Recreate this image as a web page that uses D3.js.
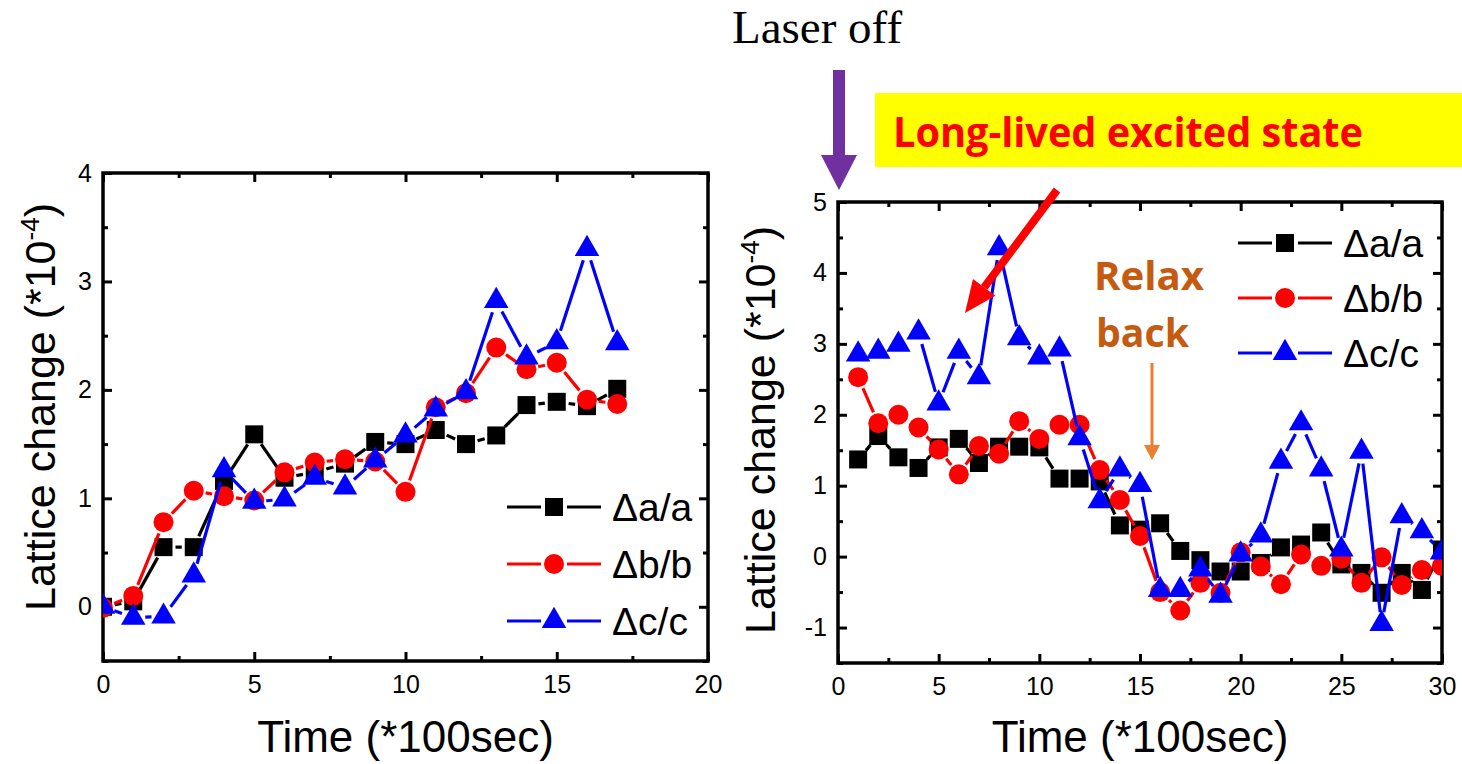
<!DOCTYPE html>
<html>
<head>
<meta charset="utf-8">
<script src="https://cdn.jsdelivr.net/npm/d3@7"></script>
<style>
  body { margin: 0; background: #fff; }
  svg { display: block; }
</style>
</head>
<body>
<div id="graph-container"></div>
<script>
const width = 1462;
const height = 764;

// left panel (laser on)
const leftTime = d3.range(0, 18);
const leftA = [0, 0.05, 0.55, 0.55, 1.16, 1.59, 1.19, 1.24, 1.32, 1.52, 1.50, 1.63, 1.50, 1.58, 1.86, 1.89, 1.85, 2.01];
const leftB = [-0.01, 0.10, 0.78, 1.07, 1.02, 0.98, 1.24, 1.33, 1.36, 1.34, 1.06, 1.84, 1.97, 2.39, 2.19, 2.25, 1.91, 1.87];
const leftC = [0, -0.10, -0.09, 0.29, 1.26, 0.97, 0.99, 1.19, 1.10, 1.35, 1.58, 1.82, 1.98, 2.82, 2.30, 2.44, 3.30, 2.43];

// right panel (laser off)
const rightTime = d3.range(1, 31);
const rightA = [1.37, 1.70, 1.40, 1.25, 1.54, 1.66, 1.32, 1.55, 1.55, 1.54, 1.10, 1.10, 1.06, 0.44, 0.38, 0.47, 0.08, -0.05, -0.21, -0.21, -0.09, 0.13, 0.17, 0.34, -0.11, -0.23, -0.51, -0.23, -0.47, 0.10];
const rightB = [2.53, 1.88, 2.00, 1.82, 1.51, 1.16, 1.56, 1.45, 1.91, 1.66, 1.86, 1.86, 1.22, 0.80, 0.29, -0.50, -0.76, -0.37, -0.51, 0.06, -0.14, -0.39, 0.03, -0.13, -0.03, -0.37, -0.01, -0.40, -0.19, -0.13];
const rightC = [2.85, 2.89, 2.99, 3.16, 2.16, 2.89, 2.53, 4.35, 3.08, 2.81, 2.92, 1.67, 0.78, 1.23, 1.01, -0.47, -0.47, -0.18, -0.55, 0.03, 0.30, 1.34, 1.88, 1.23, 0.10, 1.48, -0.95, 0.57, 0.36, 0.06];

const seriesNames = ["\u0394a/a", "\u0394b/b", "\u0394c/c"];
const seriesColors = ["#000000", "#ff0000", "#0000ff"];
const seriesSymbols = [d3.symbolSquare, d3.symbolCircle, d3.symbolTriangle];
const symbolSizes = [324, 314, 260];

const sans = "'Liberation Sans', Arial, sans-serif";

const svg = d3.select("#graph-container")
    .append("svg")
    .attr("width", width)
    .attr("height", height)
    .attr("viewBox", `0 0 ${width} ${height}`);

// segments with a gap next to each symbol, like Origin draws them
function gappedSegments(pts, gap) {
    const segs = [];
    for (let i = 0; i < pts.length - 1; i++) {
        const [x1, y1] = pts[i], [x2, y2] = pts[i + 1];
        const len = Math.hypot(x2 - x1, y2 - y1);
        if (len <= 2 * gap + 1) continue;
        const ux = (x2 - x1) / len, uy = (y2 - y1) / len;
        segs.push([x1 + ux * gap, y1 + uy * gap, x2 - ux * gap, y2 - uy * gap]);
    }
    return segs;
}

function drawPanel(p) {
    const x = d3.scaleLinear().domain(p.xDomain).range([p.left, p.right]);
    const y = d3.scaleLinear().domain(p.yDomain).range([p.bottom, p.top]);
    const w = p.right - p.left, h = p.bottom - p.top;

    const clipId = "clip-" + p.id;
    svg.append("clipPath").attr("id", clipId)
        .append("rect")
        .attr("x", p.left).attr("y", p.top)
        .attr("width", w).attr("height", h);

    const xMajor = d3.range(p.xDomain[0], p.xDomain[1] + 0.01, 5);
    const xMinor = d3.range(p.xDomain[0] + 2.5, p.xDomain[1], 5);
    const yMajor = d3.range(Math.ceil(p.yDomain[0]), p.yDomain[1] + 0.01, 1);
    const yMinor = d3.range(p.yDomain[0], p.yDomain[1], 0.5).filter(v => !Number.isInteger(v));

    const axes = [
        { make: () => d3.axisBottom(x), t: `translate(0,${p.bottom})`, labels: true },
        { make: () => d3.axisTop(x), t: `translate(0,${p.top})`, labels: false },
        { make: () => d3.axisLeft(y), t: `translate(${p.left},0)`, labels: true, isY: true },
        { make: () => d3.axisRight(y), t: `translate(${p.right},0)`, labels: false, isY: true }
    ];

    axes.forEach(a => {
        const major = a.make()
            .tickValues(a.isY ? yMajor : xMajor)
            .tickSize(-9)
            .tickPadding(a.isY ? 11 : 14)
            .tickFormat(a.labels ? d => String(d) : () => "");
        const gM = svg.append("g").attr("transform", a.t).call(major);
        const minor = a.make()
            .tickValues(a.isY ? yMinor : xMinor)
            .tickSize(-5)
            .tickFormat(() => "");
        const gm = svg.append("g").attr("transform", a.t).call(minor);
        [gM, gm].forEach(g => {
            g.select(".domain").remove();
            g.selectAll("line").attr("stroke", "#000").attr("stroke-width", 3);
            g.selectAll("text")
                .attr("font-family", sans)
                .attr("font-size", 25)
                .attr("fill", "#000");
        });
    });

    // frame
    svg.append("rect")
        .attr("x", p.left).attr("y", p.top)
        .attr("width", w).attr("height", h)
        .attr("fill", "none")
        .attr("stroke", "#000")
        .attr("stroke-width", 3.5);

    // data
    const plot = svg.append("g").attr("clip-path", `url(#${clipId})`);
    p.series.forEach((vals, i) => {
        const pts = p.time.map((t, j) => [x(t), y(vals[j])]);
        plot.selectAll(null)
            .data(gappedSegments(pts, 12))
            .enter().append("line")
            .attr("x1", d => d[0]).attr("y1", d => d[1])
            .attr("x2", d => d[2]).attr("y2", d => d[3])
            .attr("stroke", seriesColors[i])
            .attr("stroke-width", 3.2);
        plot.selectAll(null)
            .data(pts)
            .enter().append("path")
            .attr("d", d3.symbol(seriesSymbols[i], symbolSizes[i]))
            .attr("transform", d => `translate(${d[0]},${d[1]})`)
            .attr("fill", seriesColors[i]);
    });

    // legend
    const lg = p.legend;
    seriesNames.forEach((name, i) => {
        const cy = lg.y + i * lg.dy;
        const g = svg.append("g");
        g.append("line")
            .attr("x1", lg.x).attr("x2", lg.x + 34)
            .attr("y1", cy).attr("y2", cy)
            .attr("stroke", seriesColors[i]).attr("stroke-width", 3.2);
        g.append("line")
            .attr("x1", lg.x + 60).attr("x2", lg.x + 94)
            .attr("y1", cy).attr("y2", cy)
            .attr("stroke", seriesColors[i]).attr("stroke-width", 3.2);
        g.append("path")
            .attr("d", d3.symbol(seriesSymbols[i], symbolSizes[i]))
            .attr("transform", `translate(${lg.x + 47},${cy})`)
            .attr("fill", seriesColors[i]);
        g.append("text")
            .attr("x", lg.x + 105)
            .attr("y", cy + 14)
            .attr("font-family", sans)
            .attr("font-size", 39)
            .text(name);
    });

    // axis titles
    svg.append("text")
        .attr("x", (p.left + p.right) / 2)
        .attr("y", 752)
        .attr("text-anchor", "middle")
        .attr("font-family", sans)
        .attr("font-size", 44)
        .text("Time (*100sec)");

    const yl = svg.append("text")
        .attr("transform", `translate(${p.yLabelX},${p.yLabelY}) rotate(-90)`)
        .attr("text-anchor", "middle")
        .attr("font-family", sans)
        .attr("font-size", 43);
    yl.append("tspan").text("Lattice change (*10");
    yl.append("tspan").attr("font-size", 26).attr("dy", -16).text("-4");
    yl.append("tspan").attr("dy", 16).text(")");
}

drawPanel({
    id: "left",
    left: 103, right: 708, top: 173, bottom: 661,
    xDomain: [0, 20], yDomain: [-0.5, 4],
    time: leftTime,
    series: [leftA, leftB, leftC],
    legend: { x: 507, y: 507, dy: 57 },
    yLabelX: 55, yLabelY: 407
});

drawPanel({
    id: "right",
    left: 838, right: 1442, top: 202, bottom: 663,
    xDomain: [0, 30], yDomain: [-1.5, 5],
    time: rightTime,
    series: [rightA, rightB, rightC],
    legend: { x: 1238, y: 243, dy: 55 },
    yLabelX: 775, yLabelY: 430
});

// annotations
svg.append("text")
    .attr("x", 732).attr("y", 43)
    .attr("font-family", "'Liberation Serif', 'Times New Roman', serif")
    .attr("font-size", 47)
    .text("Laser off");

// purple "laser off" arrow
svg.append("path")
    .attr("d", "M833,70 L845,70 L845,155 L857,155 L839,190 L821,155 L833,155 Z")
    .attr("fill", "#7030a0");

svg.append("rect")
    .attr("x", 875).attr("y", 93)
    .attr("width", width - 875).attr("height", 74)
    .attr("fill", "#ffff00");

svg.append("text")
    .attr("x", 893).attr("y", 147)
    .attr("font-family", "'Open Sans', sans-serif")
    .attr("font-weight", "bold")
    .attr("font-size", 41)
    .attr("fill", "#ff0000")
    .attr("textLength", 470)
    .attr("lengthAdjust", "spacingAndGlyphs")
    .text("Long-lived excited state");

// red arrow pointing at the high plateau
const ra = { x1: 1057, y1: 190, x2: 965, y2: 313 };
const ang = Math.atan2(ra.y2 - ra.y1, ra.x2 - ra.x1);
const headLen = 32, headHalf = 14;
const bx = ra.x2 - headLen * Math.cos(ang), by = ra.y2 - headLen * Math.sin(ang);
svg.append("line")
    .attr("x1", ra.x1).attr("y1", ra.y1)
    .attr("x2", bx).attr("y2", by)
    .attr("stroke", "#ff0000").attr("stroke-width", 8);
svg.append("path")
    .attr("d", `M${ra.x2},${ra.y2} L${bx + headHalf * Math.sin(ang)},${by - headHalf * Math.cos(ang)} L${bx - headHalf * Math.sin(ang)},${by + headHalf * Math.cos(ang)} Z`)
    .attr("fill", "#ff0000");

// relax back
const rb = svg.append("text")
    .attr("font-family", "'Open Sans', sans-serif")
    .attr("font-weight", "bold")
    .attr("font-size", 39)
    .attr("fill", "#c55a11");
rb.append("tspan").attr("x", 1094).attr("y", 290).attr("textLength", 110).attr("lengthAdjust", "spacingAndGlyphs").text("Relax");
rb.append("tspan").attr("x", 1096).attr("y", 347).attr("textLength", 93).attr("lengthAdjust", "spacingAndGlyphs").text("back");

svg.append("line")
    .attr("x1", 1152).attr("y1", 363)
    .attr("x2", 1152).attr("y2", 446)
    .attr("stroke", "#ed7d31").attr("stroke-width", 3);
svg.append("path")
    .attr("d", "M1144,445 L1160,445 L1152,460 Z")
    .attr("fill", "#ed7d31");
</script>
</body>
</html>
